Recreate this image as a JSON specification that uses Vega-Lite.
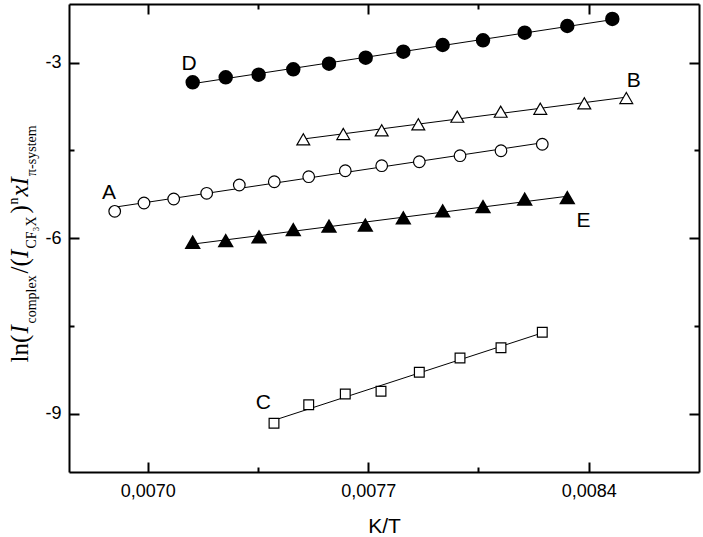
{
  "$schema": "https://vega.github.io/schema/vega-lite/v6.json",
  "width": 630,
  "height": 468,
  "autosize": {"type": "none"},
  "padding": {"left": 69, "top": 4, "right": 4, "bottom": 65},
  "background": "white",
  "config": {
    "view": {"stroke": null},
    "axis": {
      "grid": false,
      "labelFont": "Liberation Sans",
      "labelFontSize": 18,
      "labelColor": "black",
      "domainColor": "black",
      "domainWidth": 2,
      "tickColor": "black",
      "tickWidth": 2,
      "titleColor": "black",
      "titleFontWeight": "normal",
      "labelFlush": false,
      "labelOverlap": false
    }
  },
  "datasets": {
    "pts": [
      {"series": "D", "x": 0.0071427, "y": -3.338},
      {"series": "D", "x": 0.0072475, "y": -3.253},
      {"series": "D", "x": 0.0073520, "y": -3.209},
      {"series": "D", "x": 0.0074620, "y": -3.116},
      {"series": "D", "x": 0.0075754, "y": -3.021},
      {"series": "D", "x": 0.0076919, "y": -2.918},
      {"series": "D", "x": 0.0078113, "y": -2.815},
      {"series": "D", "x": 0.0079363, "y": -2.701},
      {"series": "D", "x": 0.0080643, "y": -2.621},
      {"series": "D", "x": 0.0081967, "y": -2.491},
      {"series": "D", "x": 0.0083319, "y": -2.376},
      {"series": "D", "x": 0.0084748, "y": -2.256},
      {"series": "B", "x": 0.0074938, "y": -4.313},
      {"series": "B", "x": 0.0076208, "y": -4.222},
      {"series": "B", "x": 0.0077427, "y": -4.159},
      {"series": "B", "x": 0.0078589, "y": -4.056},
      {"series": "B", "x": 0.0079827, "y": -3.926},
      {"series": "B", "x": 0.0081205, "y": -3.841},
      {"series": "B", "x": 0.0082462, "y": -3.790},
      {"series": "B", "x": 0.0083859, "y": -3.697},
      {"series": "B", "x": 0.0085192, "y": -3.607},
      {"series": "A", "x": 0.0068951, "y": -5.544},
      {"series": "A", "x": 0.0069881, "y": -5.402},
      {"series": "A", "x": 0.0070824, "y": -5.333},
      {"series": "A", "x": 0.0071871, "y": -5.236},
      {"series": "A", "x": 0.0072906, "y": -5.094},
      {"series": "A", "x": 0.0074017, "y": -5.038},
      {"series": "A", "x": 0.0075110, "y": -4.952},
      {"series": "A", "x": 0.0076271, "y": -4.850},
      {"series": "A", "x": 0.0077427, "y": -4.764},
      {"series": "A", "x": 0.0078621, "y": -4.696},
      {"series": "A", "x": 0.0079913, "y": -4.593},
      {"series": "A", "x": 0.0081214, "y": -4.508},
      {"series": "A", "x": 0.0082525, "y": -4.398},
      {"series": "E", "x": 0.0071427, "y": -6.074},
      {"series": "E", "x": 0.0072475, "y": -6.046},
      {"series": "E", "x": 0.0073532, "y": -5.983},
      {"series": "E", "x": 0.0074620, "y": -5.858},
      {"series": "E", "x": 0.0075754, "y": -5.800},
      {"series": "E", "x": 0.0076907, "y": -5.783},
      {"series": "E", "x": 0.0078113, "y": -5.658},
      {"series": "E", "x": 0.0079363, "y": -5.538},
      {"series": "E", "x": 0.0080643, "y": -5.465},
      {"series": "E", "x": 0.0081967, "y": -5.338},
      {"series": "E", "x": 0.0083319, "y": -5.311},
      {"series": "C", "x": 0.0074008, "y": -9.168},
      {"series": "C", "x": 0.0075110, "y": -8.850},
      {"series": "C", "x": 0.0076271, "y": -8.667},
      {"series": "C", "x": 0.0077405, "y": -8.621},
      {"series": "C", "x": 0.0078621, "y": -8.296},
      {"series": "C", "x": 0.0079913, "y": -8.051},
      {"series": "C", "x": 0.0081214, "y": -7.875},
      {"series": "C", "x": 0.0082525, "y": -7.612}
    ],
    "fits": [
      {"series": "D", "x": 0.0071427, "y": -3.362},
      {"series": "D", "x": 0.0084748, "y": -2.267},
      {"series": "B", "x": 0.0074938, "y": -4.3075},
      {"series": "B", "x": 0.0085192, "y": -3.5926},
      {"series": "A", "x": 0.0068951, "y": -5.473},
      {"series": "A", "x": 0.0082525, "y": -4.3725},
      {"series": "E", "x": 0.0071427, "y": -6.1044},
      {"series": "E", "x": 0.0083319, "y": -5.2862},
      {"series": "C", "x": 0.0074008, "y": -9.116},
      {"series": "C", "x": 0.0082525, "y": -7.622}
    ],
    "labels": [
      {"t": "A", "x": 0.006877, "y": -5.226},
      {"t": "B", "x": 0.008543, "y": -3.316},
      {"t": "C", "x": 0.007367, "y": -8.815},
      {"t": "D", "x": 0.007131, "y": -3.026},
      {"t": "E", "x": 0.008383, "y": -5.709}
    ]
  },
  "resolve": {"axis": {"x": "independent", "y": "independent"}},
  "layer": [
    {
      "data": {"name": "fits"},
      "mark": {"type": "line", "color": "black", "strokeWidth": 1},
      "encoding": {
        "x": {"field": "x", "type": "quantitative",
          "scale": {"domain": [0.00675, 0.00875], "nice": false, "zero": false},
          "axis": {"orient": "bottom", "values": [0.007, 0.0077, 0.0084], "ticks": false, "domain": true,
            "labelExpr": "replace(format(datum.value, '.4f'), '.', ',')", "labelPadding": 10, "labelBaseline": "top",
            "title": "K/T", "titleFont": "Liberation Sans", "titleFontSize": 21, "titleX": 315, "titleY": 60,
            "titleAlign": "center", "titleBaseline": "alphabetic", "titleAngle": 0}},
        "y": {"field": "y", "type": "quantitative",
          "scale": {"domain": [-10, -2], "nice": false, "zero": false},
          "axis": {"orient": "left", "values": [-9, -6, -3], "ticks": false, "domain": true,
            "labelExpr": "'' + datum.value", "labelPadding": 8,
            "title": "ln(", "titleFont": "Liberation Serif", "titleFontSize": 25, "titleFontStyle": "normal",
            "titleX": -42, "titleY": 358, "titleAngle": 270, "titleAlign": "left", "titleBaseline": "alphabetic"}},
        "detail": {"field": "series"}
      }
    },
    {
      "data": {"name": "pts"},
      "transform": [{"filter": "datum.series === 'D'"}],
      "mark": {"type": "point", "shape": "circle", "filled": true, "fill": "black", "stroke": "black", "size": 155, "opacity": 1},
      "encoding": {
        "x": {"field": "x", "type": "quantitative",
          "axis": {"orient": "bottom", "values": [0.007, 0.0077, 0.0084], "labels": false, "domain": false, "ticks": true, "tickSize": -10,
            "title": "I", "titleFont": "Liberation Serif", "titleFontSize": 25, "titleFontStyle": "italic",
            "titleX": -42, "titleY": -139, "titleAngle": 270, "titleAlign": "left", "titleBaseline": "alphabetic"}},
        "y": {"field": "y", "type": "quantitative",
          "axis": {"orient": "left", "values": [-9, -6, -3], "labels": false, "domain": false, "ticks": true, "tickSize": -10,
            "title": "complex", "titleFont": "Liberation Serif", "titleFontSize": 14, "titleFontStyle": "normal",
            "titleX": -33.5, "titleY": 319, "titleAngle": 270, "titleAlign": "left", "titleBaseline": "alphabetic"}}
      }
    },
    {
      "data": {"name": "pts"},
      "transform": [{"filter": "datum.series === 'B'"}],
      "mark": {"type": "point", "shape": "triangle-up", "filled": true, "fill": "white", "stroke": "black", "strokeWidth": 1.2, "size": 165, "opacity": 1},
      "encoding": {
        "x": {"field": "x", "type": "quantitative",
          "axis": {"orient": "bottom", "values": [0.00735, 0.00805], "labels": false, "domain": false, "ticks": true, "tickSize": -5,
            "title": "/(", "titleFont": "Liberation Serif", "titleFontSize": 25, "titleFontStyle": "normal",
            "titleX": -42, "titleY": -199, "titleAngle": 270, "titleAlign": "left", "titleBaseline": "alphabetic"}},
        "y": {"field": "y", "type": "quantitative",
          "axis": {"orient": "left", "values": [-7.5, -4.5], "labels": false, "domain": false, "ticks": true, "tickSize": -5,
            "title": "I", "titleFont": "Liberation Serif", "titleFontSize": 25, "titleFontStyle": "italic",
            "titleX": -42, "titleY": 253.5, "titleAngle": 270, "titleAlign": "left", "titleBaseline": "alphabetic"}}
      }
    },
    {
      "data": {"name": "pts"},
      "transform": [{"filter": "datum.series === 'A'"}],
      "mark": {"type": "point", "shape": "circle", "filled": true, "fill": "white", "stroke": "black", "strokeWidth": 1.2, "size": 135, "opacity": 1},
      "encoding": {
        "x": {"field": "x", "type": "quantitative",
          "axis": {"orient": "top", "values": [0.007, 0.0077, 0.0084], "labels": false, "domain": true, "ticks": true, "tickSize": -10,
            "title": "CF₃X", "titleFont": "Liberation Serif", "titleFontSize": 14, "titleFontStyle": "normal",
            "titleX": -33.5, "titleY": 244, "titleAngle": 270, "titleAlign": "left", "titleBaseline": "alphabetic"}},
        "y": {"field": "y", "type": "quantitative",
          "axis": {"orient": "right", "values": [-9, -6, -3], "labels": false, "domain": true, "ticks": true, "tickSize": -10,
            "title": ")", "titleFont": "Liberation Serif", "titleFontSize": 25, "titleFontStyle": "normal",
            "titleX": -672, "titleY": 209, "titleAngle": 270, "titleAlign": "left", "titleBaseline": "alphabetic"}}
      }
    },
    {
      "data": {"name": "pts"},
      "transform": [{"filter": "datum.series === 'E'"}],
      "mark": {"type": "point", "shape": "triangle-up", "filled": true, "fill": "black", "stroke": "black", "size": 165, "opacity": 1},
      "encoding": {
        "x": {"field": "x", "type": "quantitative",
          "axis": {"orient": "top", "values": [0.00735, 0.00805], "labels": false, "domain": false, "ticks": true, "tickSize": -5,
            "title": "n", "titleFont": "Liberation Serif", "titleFontSize": 14, "titleFontStyle": "normal",
            "titleX": -52, "titleY": 200, "titleAngle": 270, "titleAlign": "left", "titleBaseline": "alphabetic"}},
        "y": {"field": "y", "type": "quantitative",
          "axis": {"orient": "right", "values": [-7.5, -4.5], "labels": false, "domain": false, "ticks": true, "tickSize": -5,
            "title": "xI", "titleFont": "Liberation Serif", "titleFontSize": 25, "titleFontStyle": "italic",
            "titleX": -672, "titleY": 192, "titleAngle": 270, "titleAlign": "left", "titleBaseline": "alphabetic"}}
      }
    },
    {
      "data": {"name": "pts"},
      "transform": [{"filter": "datum.series === 'C'"}],
      "mark": {"type": "point", "shape": "square", "filled": true, "fill": "white", "stroke": "black", "strokeWidth": 1.2, "size": 95, "opacity": 1},
      "encoding": {
        "x": {"field": "x", "type": "quantitative", "axis": null},
        "y": {"field": "y", "type": "quantitative",
          "axis": {"orient": "left", "labels": false, "domain": false, "ticks": false,
            "title": "π-system", "titleFont": "Liberation Serif", "titleFontSize": 14, "titleFontStyle": "normal",
            "titleX": -33.5, "titleY": 171.5, "titleAngle": 270, "titleAlign": "left", "titleBaseline": "alphabetic"}}
      }
    },
    {
      "data": {"name": "labels"},
      "mark": {"type": "text", "font": "Liberation Sans", "fontSize": 21, "color": "black", "align": "center", "baseline": "middle"},
      "encoding": {
        "x": {"field": "x", "type": "quantitative", "axis": null},
        "y": {"field": "y", "type": "quantitative", "axis": null},
        "text": {"field": "t"}
      }
    }
  ]
}
